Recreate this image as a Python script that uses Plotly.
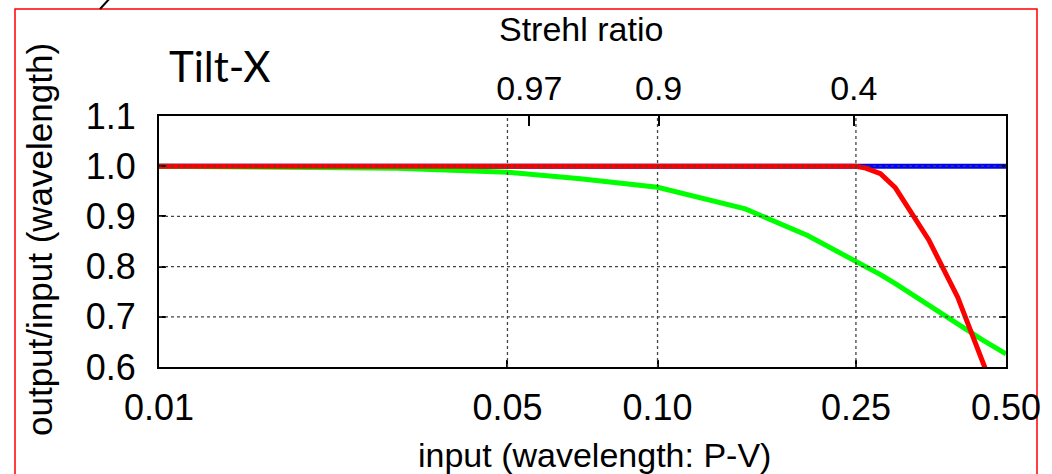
import math
import plotly.graph_objects as go

# ---------------- data ----------------
INPUT_PV = [0.01, 0.02, 0.03, 0.05, 0.07, 0.10, 0.15, 0.20, 0.25, 0.26, 0.28, 0.30, 0.35, 0.40, 0.45, 0.50]
BLUE_RATIO = [1.0, 1.0, 1.0, 1.0, 1.0, 1.0, 1.0, 1.0, 1.0, 1.0, 1.0, 1.0, 1.0, 1.0, 1.0, 1.0]
GREEN_RATIO = [1.0, 0.999, 0.996, 0.988, 0.975, 0.958, 0.915, 0.862, 0.812, 0.803, 0.784, 0.766, 0.722, 0.685, 0.653, 0.626]
RED_RATIO = [1.0, 1.0, 1.0, 1.0, 1.0, 1.0, 1.0, 1.0, 1.0, 0.997, 0.985, 0.957, 0.853, 0.739, 0.613, 0.49]

X_TICKS = [0.01, 0.05, 0.10, 0.25, 0.50]
X_TICK_TEXT = ["0.01", "0.05", "0.10", "0.25", "0.50"]
X_GRID = [0.05, 0.10, 0.25]
Y_TICKS = [0.6, 0.7, 0.8, 0.9, 1.0, 1.1]
Y_TICK_TEXT = ["0.6", "0.7", "0.8", "0.9", "1.0", "1.1"]
Y_GRID = [0.7, 0.8, 0.9, 1.0]
STREHL_AT = [0.0553, 0.1005, 0.2475]
STREHL_TEXT = ["0.97", "0.9", "0.4"]

X_RANGE = [0.01, 0.50]
Y_RANGE = [0.6, 1.1]

# ---------------- layout geometry ----------------
W, H = 1052, 474
ML, MR, MT, MB = 159, 46, 116, 107
PW, PH = W - ML - MR, H - MT - MB


def px_x(px):
    return (px - ML) / PW


def px_y(py):
    return (H - MB - py) / PH


FONT = "Liberation Sans, Arial, Helvetica, sans-serif"
fig = go.Figure()

fig.add_trace(go.Scatter(x=INPUT_PV, y=BLUE_RATIO, mode="lines",
                         line=dict(color="#0000ff", width=5), showlegend=False))
fig.add_trace(go.Scatter(x=INPUT_PV, y=GREEN_RATIO, mode="lines",
                         line=dict(color="#00ff00", width=5), showlegend=False))
fig.add_trace(go.Scatter(x=INPUT_PV, y=RED_RATIO, mode="lines",
                         line=dict(color="#ff0000", width=5), showlegend=False))
# invisible trace so the top (Strehl) axis is drawn
fig.add_trace(go.Scatter(x=INPUT_PV, y=BLUE_RATIO, xaxis="x2", mode="lines",
                         line=dict(width=0, color="rgba(0,0,0,0)"), hoverinfo="skip",
                         showlegend=False))

xr = [math.log10(X_RANGE[0]), math.log10(X_RANGE[1])]

shapes = []
# dashed grid lines drawn above the curves
for gx in X_GRID:
    shapes.append(dict(type="line", xref="x", yref="paper", x0=gx, x1=gx, y0=0, y1=1,
                       line=dict(color="#444444", width=1.3, dash="3px,3px"), layer="above"))
for gy in Y_GRID:
    shapes.append(dict(type="line", xref="paper", yref="y", x0=0, x1=1, y0=gy, y1=gy,
                       line=dict(color="#444444", width=1.3, dash="3px,3px"), layer="above"))
# red frame around the panel
shapes.append(dict(type="rect", xref="paper", yref="paper",
                   x0=px_x(15), x1=px_x(1037), y0=px_y(490), y1=px_y(9),
                   line=dict(color="#ff0000", width=1.5), fillcolor="rgba(0,0,0,0)", layer="below"))
# small stroke of a cut-off label at the top-left
shapes.append(dict(type="line", xref="paper", yref="paper",
                   x0=px_x(100), y0=px_y(9), x1=px_x(111), y1=px_y(-3),
                   line=dict(color="#000000", width=2)))

annotations = [
    dict(text="Tilt-X", xref="paper", yref="paper", x=px_x(220), y=px_y(66),
         xanchor="center", yanchor="middle", showarrow=False,
         font=dict(family="Lato, Carlito, sans-serif", size=42, color="black")),
    dict(text="Strehl ratio", xref="paper", yref="paper", x=px_x(581), y=px_y(29),
         xanchor="center", yanchor="middle", showarrow=False,
         font=dict(family=FONT, size=34, color="black")),
    dict(text="input (wavelength: P-V)", xref="paper", yref="paper", x=px_x(594), y=px_y(455),
         xanchor="center", yanchor="middle", showarrow=False,
         font=dict(family=FONT, size=34, color="black")),
    dict(text="output/input (wavelength)", xref="paper", yref="paper", x=px_x(39), y=px_y(240),
         xanchor="center", yanchor="middle", showarrow=False, textangle=-90,
         font=dict(family=FONT, size=35, color="black")),
]

fig.update_layout(
    width=W, height=H,
    margin=dict(l=ML, r=MR, t=MT, b=MB),
    paper_bgcolor="white", plot_bgcolor="white",
    font=dict(family=FONT, size=35, color="black"),
    xaxis=dict(type="log", range=xr, tickvals=X_TICKS, ticktext=X_TICK_TEXT,
               showgrid=False, zeroline=False, showline=True, linecolor="black", linewidth=2,
               mirror=True, ticks="inside", ticklen=7, tickwidth=1.5, tickcolor="black",
               ticklabelstandoff=8, tickfont=dict(size=36)),
    xaxis2=dict(type="log", range=xr, overlaying="x", side="top", tickvals=STREHL_AT,
                ticktext=STREHL_TEXT, showgrid=False, zeroline=False, showline=False,
                ticks="inside", ticklen=10, tickwidth=1.5, tickcolor="black",
                ticklabelstandoff=8, tickfont=dict(size=34)),
    yaxis=dict(range=Y_RANGE, tickvals=Y_TICKS, ticktext=Y_TICK_TEXT,
               showgrid=False, zeroline=False, showline=True, linecolor="black", linewidth=2,
               mirror="ticks", ticks="inside", ticklen=7, tickwidth=1.5, tickcolor="black",
               ticklabelstandoff=14, tickfont=dict(size=36)),
    shapes=shapes, annotations=annotations,
)

fig.write_html("out.html")
